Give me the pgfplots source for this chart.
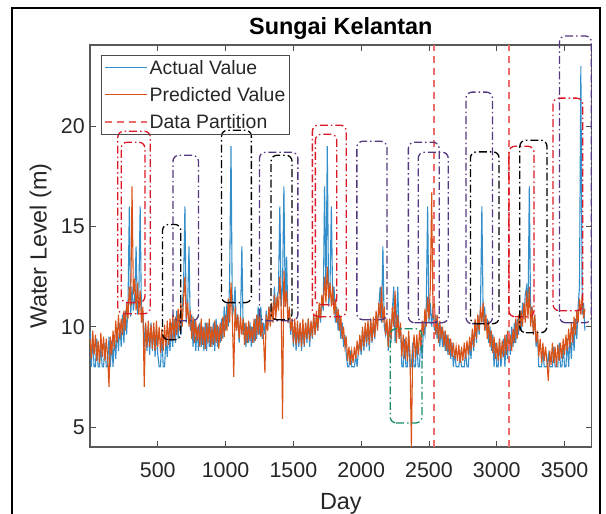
\documentclass[border=0pt]{standalone}
\usepackage{pgfplots}
\pgfplotsset{compat=1.18}
\usepackage{fontspec}
\setmainfont{Liberation Sans}

\definecolor{mblue}{rgb}{0,0.447,0.741}
\definecolor{morange}{rgb}{0.85,0.325,0.098}
\definecolor{mred}{rgb}{0.86,0.1,0.15}
\definecolor{mpurp}{rgb}{0.33,0.22,0.5}
\definecolor{mgreen}{rgb}{0.1,0.55,0.4}
\definecolor{mpart}{rgb}{0.93,0.42,0.42}

\tikzset{rectst/.style={line width=1.3bp, dash pattern=on 8bp off 3bp on 1.5bp off 3bp, rounded corners=6bp},
  partst/.style={mpart, line width=1.6bp, dash pattern=on 7bp off 5bp}}
\newcommand{\rect}[5]{\addplot[#1, rectst, forget plot] coordinates {(#2,#4) (#3,#4) (#3,#5) (#2,#5)} -- cycle;}

\begin{document}
\begin{tikzpicture}
\path[use as bounding box] (0,0) rectangle (606bp,514bp);
\draw[line width=1.5bp] (12bp,0) -- (12bp,506bp) -- (600bp,506bp) -- (600bp,0);
\begin{axis}[
  at={(90bp,67bp)}, anchor=south west,
  width=501.7bp, height=402bp, scale only axis,
  xmin=0, xmax=3700, ymin=4, ymax=24.05,
  xtick={500,1000,1500,2000,2500,3000,3500},
  ytick={5,10,15,20},
  tick align=inside, major tick length=6bp,
  every tick/.style={black!70, line width=0.8bp},
  axis line style={black!65, line width=1.2bp},
  clip=false,
  /pgf/number format/assume math mode=true,
  /pgf/number format/1000 sep={},
  scaled x ticks=false,
  tick label style={font=\fontsize{21.5}{24}\selectfont, text=black!85},
  xticklabel style={inner sep=0pt, anchor=center, yshift=-23bp},
  yticklabel style={inner sep=0pt, anchor=east, xshift=-5bp},
  title={Sungai Kelantan},
  title style={at={(0.5,1.026)}, anchor=center, font=\bfseries\fontsize{23.5}{28}\selectfont},
  xlabel={Day},
  xlabel style={at={(axis description cs:0.5,-0.1405)}, anchor=center, font=\fontsize{23.5}{28}\selectfont, text=black!85},
  ylabel={Water Level (m)},
  ylabel style={at={(axis description cs:-0.0985,0.5)}, anchor=center, rotate=0, font=\fontsize{23.5}{28}\selectfont, text=black!85},
  legend style={at={(axis description cs:0.022,0.975)}, anchor=north west, draw=black!70, line width=1bp, fill=none,
     font=\fontsize{19.5}{22}\selectfont, text=black!85, row sep=7.5bp, inner sep=2.5bp},
  legend cell align=left,
  legend image code/.code={\draw[#1] (0bp,0bp) -- (42bp,0bp);},
]
\addplot[mblue!80, line width=1.1bp] table[header=false, row sep=\\, x expr=\coordindex*10, y index=0] {
9.8\\ 8.0\\ 9.6\\ 8.0\\ 8.0\\ 9.4\\ 8.0\\ 8.0\\ 9.0\\ 8.0\\
8.0\\ 9.2\\ 8.0\\ 8.0\\ 9.5\\ 8.0\\ 9.3\\ 8.0\\ 9.6\\ 8.4\\
10.0\\ 8.8\\ 10.2\\ 9.0\\ 10.6\\ 9.2\\ 10.8\\ 9.6\\ 11.0\\ 16.0\\
10.5\\ 12.0\\ 10.8\\ 11.5\\ 14.0\\ 10.6\\ 11.5\\ 16.0\\ 10.2\\ 10.8\\
9.0\\ 10.2\\ 8.8\\ 10.0\\ 8.6\\ 10.2\\ 8.8\\ 10.0\\ 8.5\\ 9.8\\
8.6\\ 8.0\\ 8.0\\ 9.6\\ 8.0\\ 8.0\\ 9.4\\ 8.5\\ 9.8\\ 8.8\\
10.2\\ 9.0\\ 10.4\\ 9.2\\ 10.8\\ 9.4\\ 10.6\\ 9.6\\ 11.0\\ 12.0\\
16.0\\ 10.2\\ 11.0\\ 14.0\\ 9.8\\ 10.6\\ 9.0\\ 10.4\\ 8.8\\ 10.0\\
8.8\\ 10.2\\ 9.0\\ 10.0\\ 8.8\\ 10.2\\ 8.8\\ 10.2\\ 9.0\\ 10.0\\
9.0\\ 10.2\\ 8.8\\ 10.4\\ 9.0\\ 10.0\\ 9.2\\ 10.4\\ 9.4\\ 11.0\\
9.8\\ 11.2\\ 10.0\\ 12.5\\ 19.0\\ 10.5\\ 11.0\\ 12.0\\ 9.8\\ 10.6\\
9.2\\ 10.4\\ 14.0\\ 9.6\\ 10.2\\ 9.0\\ 10.0\\ 9.2\\ 10.2\\ 9.0\\
10.0\\ 9.2\\ 10.4\\ 9.4\\ 11.0\\ 9.6\\ 11.0\\ 9.4\\ 10.2\\ 9.6\\
10.8\\ 9.8\\ 11.0\\ 10.2\\ 11.0\\ 10.4\\ 12.0\\ 10.6\\ 11.5\\ 11.8\\
16.0\\ 11.0\\ 12.0\\ 17.0\\ 11.0\\ 13.5\\ 10.2\\ 10.8\\ 9.6\\ 10.4\\
9.0\\ 10.2\\ 8.8\\ 10.0\\ 9.0\\ 10.2\\ 8.8\\ 10.0\\ 9.0\\ 10.2\\
9.2\\ 10.4\\ 9.0\\ 10.2\\ 9.4\\ 10.6\\ 9.6\\ 10.4\\ 9.8\\ 11.0\\
10.2\\ 11.5\\ 10.8\\ 17.0\\ 11.5\\ 19.0\\ 11.0\\ 12.0\\ 16.0\\ 11.2\\
12.0\\ 10.2\\ 11.0\\ 9.8\\ 10.6\\ 9.4\\ 10.2\\ 9.0\\ 9.6\\ 8.6\\
8.0\\ 8.0\\ 8.8\\ 8.0\\ 8.0\\ 8.0\\ 8.6\\ 8.0\\ 8.8\\ 9.2\\
8.6\\ 9.8\\ 8.8\\ 10.0\\ 9.0\\ 10.2\\ 8.8\\ 10.4\\ 9.2\\ 10.2\\
9.4\\ 10.6\\ 10.0\\ 11.0\\ 12.0\\ 10.2\\ 14.0\\ 10.0\\ 9.6\\ 10.2\\
8.8\\ 10.4\\ 9.2\\ 10.8\\ 12.0\\ 9.2\\ 10.4\\ 12.0\\ 9.4\\ 10.0\\
8.0\\ 8.0\\ 9.4\\ 8.0\\ 8.0\\ 9.6\\ 8.0\\ 8.0\\ 9.2\\ 8.0\\
8.0\\ 9.4\\ 8.0\\ 8.0\\ 9.6\\ 8.4\\ 10.0\\ 9.6\\ 11.0\\ 16.0\\
10.2\\ 11.2\\ 10.0\\ 11.0\\ 9.8\\ 10.6\\ 9.4\\ 10.2\\ 9.0\\ 10.0\\
9.0\\ 9.8\\ 8.8\\ 9.6\\ 8.6\\ 9.4\\ 8.4\\ 9.2\\ 8.0\\ 8.8\\
8.0\\ 8.0\\ 8.0\\ 8.6\\ 8.0\\ 8.0\\ 8.0\\ 8.8\\ 8.0\\ 8.0\\
9.2\\ 8.4\\ 9.8\\ 8.8\\ 10.2\\ 9.2\\ 10.6\\ 9.6\\ 11.0\\ 16.0\\
10.2\\ 11.0\\ 9.8\\ 10.4\\ 9.2\\ 10.0\\ 8.8\\ 9.6\\ 8.0\\ 9.2\\
8.0\\ 8.0\\ 9.4\\ 8.0\\ 8.6\\ 9.4\\ 8.0\\ 9.6\\ 8.4\\ 9.8\\
8.6\\ 10.0\\ 9.0\\ 10.2\\ 9.2\\ 10.4\\ 9.6\\ 10.8\\ 9.8\\ 11.2\\
10.4\\ 11.6\\ 12.0\\ 10.6\\ 17.0\\ 10.2\\ 11.0\\ 9.6\\ 10.6\\ 9.0\\
9.6\\ 8.0\\ 8.0\\ 8.0\\ 8.8\\ 8.0\\ 8.0\\ 8.0\\ 8.6\\ 8.0\\
8.0\\ 8.0\\ 9.0\\ 8.0\\ 8.0\\ 8.0\\ 9.2\\ 8.0\\ 8.0\\ 9.0\\
8.0\\ 8.0\\ 9.4\\ 8.0\\ 9.6\\ 8.4\\ 10.0\\ 8.8\\ 10.4\\ 9.4\\
11.0\\ 12.0\\ 23.0\\ 10.6\\ 11.2\\ 9.8\\
};
\addlegendentry{Actual Value}
\addplot[morange, line width=1.1bp] table[header=false, row sep=\\, x expr=\coordindex*10, y index=0] {
9.4\\ 8.4\\ 9.8\\ 8.6\\ 9.6\\ 8.3\\ 9.3\\ 8.2\\ 9.7\\ 8.5\\
9.5\\ 8.3\\ 9.4\\ 8.5\\ 7.0\\ 9.5\\ 8.6\\ 9.8\\ 8.9\\ 10.3\\
9.2\\ 10.6\\ 9.4\\ 10.4\\ 9.6\\ 10.8\\ 9.8\\ 11.2\\ 10.4\\ 12.0\\
11.0\\ 17.0\\ 11.6\\ 12.4\\ 10.8\\ 12.2\\ 10.6\\ 11.8\\ 10.2\\ 11.0\\
7.0\\ 10.2\\ 9.0\\ 10.3\\ 9.0\\ 10.1\\ 8.9\\ 10.2\\ 8.8\\ 10.3\\
9.0\\ 10.0\\ 8.7\\ 9.9\\ 8.8\\ 10.1\\ 9.0\\ 10.3\\ 9.1\\ 10.4\\
9.3\\ 10.6\\ 9.4\\ 10.5\\ 9.6\\ 10.9\\ 9.8\\ 11.2\\ 10.0\\ 11.4\\
12.5\\ 10.4\\ 11.2\\ 10.0\\ 10.8\\ 9.4\\ 10.5\\ 9.2\\ 10.3\\ 9.3\\
10.1\\ 9.0\\ 10.4\\ 9.1\\ 10.0\\ 8.9\\ 10.2\\ 9.2\\ 10.4\\ 9.0\\
10.0\\ 9.1\\ 10.3\\ 9.2\\ 10.1\\ 8.9\\ 10.2\\ 9.3\\ 10.5\\ 9.5\\
10.6\\ 9.8\\ 11.4\\ 10.2\\ 12.2\\ 10.4\\ 7.5\\ 11.0\\ 9.8\\ 10.6\\
9.4\\ 10.5\\ 9.6\\ 10.4\\ 9.1\\ 10.2\\ 9.2\\ 10.3\\ 9.3\\ 10.0\\
9.2\\ 10.4\\ 9.3\\ 10.6\\ 9.6\\ 10.8\\ 9.5\\ 10.2\\ 9.4\\ 7.7\\
10.6\\ 9.8\\ 11.0\\ 10.0\\ 11.2\\ 10.2\\ 11.6\\ 10.4\\ 11.5\\ 10.8\\
12.5\\ 10.9\\ 5.4\\ 12.8\\ 11.0\\ 11.8\\ 10.2\\ 11.0\\ 9.8\\ 10.4\\
9.2\\ 10.4\\ 9.1\\ 10.3\\ 9.2\\ 10.2\\ 9.0\\ 10.4\\ 9.1\\ 10.2\\
9.4\\ 10.4\\ 9.3\\ 10.3\\ 9.5\\ 10.6\\ 9.6\\ 10.8\\ 9.8\\ 11.2\\
10.4\\ 11.6\\ 11.0\\ 12.5\\ 11.2\\ 13.0\\ 11.4\\ 12.2\\ 11.0\\ 12.0\\
10.6\\ 11.4\\ 10.2\\ 10.9\\ 9.8\\ 10.5\\ 9.4\\ 10.0\\ 9.0\\ 9.5\\
8.3\\ 9.0\\ 8.1\\ 8.8\\ 8.2\\ 9.0\\ 8.4\\ 9.3\\ 8.6\\ 9.6\\
8.8\\ 10.0\\ 9.0\\ 10.2\\ 9.2\\ 10.3\\ 9.1\\ 10.4\\ 9.3\\ 10.5\\
9.5\\ 10.8\\ 9.8\\ 11.2\\ 10.4\\ 12.0\\ 10.2\\ 11.0\\ 9.6\\ 10.4\\
9.0\\ 10.4\\ 9.4\\ 11.0\\ 10.0\\ 11.8\\ 9.2\\ 10.6\\ 9.4\\ 10.2\\
8.5\\ 9.6\\ 8.4\\ 9.5\\ 8.3\\ 9.8\\ 8.6\\ 4.0\\ 8.8\\ 9.6\\
8.4\\ 9.6\\ 8.6\\ 9.8\\ 9.0\\ 10.3\\ 9.6\\ 10.9\\ 10.0\\ 11.5\\
10.4\\ 12.0\\ 16.7\\ 10.4\\ 11.2\\ 9.6\\ 10.6\\ 9.2\\ 10.3\\ 9.4\\
10.0\\ 9.0\\ 9.8\\ 8.8\\ 9.6\\ 8.6\\ 9.4\\ 8.5\\ 9.2\\ 8.4\\
9.0\\ 8.3\\ 9.1\\ 8.2\\ 9.0\\ 8.3\\ 9.2\\ 8.4\\ 9.3\\ 8.6\\
9.5\\ 8.8\\ 9.9\\ 9.0\\ 10.4\\ 9.4\\ 10.6\\ 9.8\\ 11.0\\ 10.2\\
11.2\\ 9.8\\ 10.6\\ 9.4\\ 10.3\\ 9.0\\ 9.8\\ 8.7\\ 9.5\\ 8.4\\
9.2\\ 8.3\\ 9.4\\ 8.4\\ 9.3\\ 8.5\\ 9.6\\ 8.6\\ 9.8\\ 8.8\\
9.6\\ 8.8\\ 9.9\\ 9.2\\ 10.4\\ 9.4\\ 10.6\\ 9.8\\ 10.8\\ 10.0\\
11.2\\ 10.2\\ 11.8\\ 10.4\\ 12.0\\ 10.0\\ 11.0\\ 9.6\\ 10.6\\ 9.2\\
9.8\\ 8.5\\ 9.4\\ 8.2\\ 9.2\\ 8.3\\ 9.0\\ 8.2\\ 7.3\\ 8.8\\
8.1\\ 9.2\\ 8.2\\ 9.0\\ 8.0\\ 9.1\\ 8.3\\ 9.2\\ 8.4\\ 9.4\\
8.6\\ 9.6\\ 8.8\\ 9.9\\ 9.0\\ 10.2\\ 9.2\\ 10.5\\ 9.6\\ 10.8\\
10.2\\ 11.4\\ 10.6\\ 11.6\\ 10.4\\ 10.9\\
};
\addlegendentry{Predicted Value}
\addlegendimage{partst}
\addlegendentry{Data Partition}
\addplot[partst, forget plot] coordinates {(2535,4) (2535,24.05)};
\addplot[partst, forget plot] coordinates {(3090,4) (3090,24.05)};
\rect{mred}{205}{445}{10.65}{19.75}
\rect{mred}{230}{405}{11.2}{19.2}
\rect{black}{535}{670}{9.35}{15.1}
\rect{mpurp}{612}{800}{10.3}{18.55}
\rect{black}{970}{1190}{11.2}{19.8}
\rect{mpurp}{1250}{1533}{10.3}{18.7}
\rect{black}{1335}{1490}{10.35}{18.55}
\rect{mred}{1640}{1890}{10.5}{20.05}
\rect{mred}{1662}{1820}{11.1}{19.6}
\rect{mpurp}{1968}{2190}{10.35}{19.25}
\rect{mgreen}{2214}{2448}{5.2}{9.9}
\rect{mpurp}{2348}{2575}{10.2}{19.2}
\rect{mpurp}{2421}{2642}{10.2}{18.7}
\rect{mpurp}{2773}{2968}{10.15}{21.7}
\rect{black}{2806}{3017}{10.15}{18.72}
\rect{mred}{3089}{3275}{10.5}{19.0}
\rect{black}{3170}{3370}{9.7}{19.3}
\rect{mred}{3415}{3634}{10.8}{21.4}
\rect{mpurp}{3462}{3697}{10.2}{24.5}
\end{axis}
\end{tikzpicture}
\end{document}
